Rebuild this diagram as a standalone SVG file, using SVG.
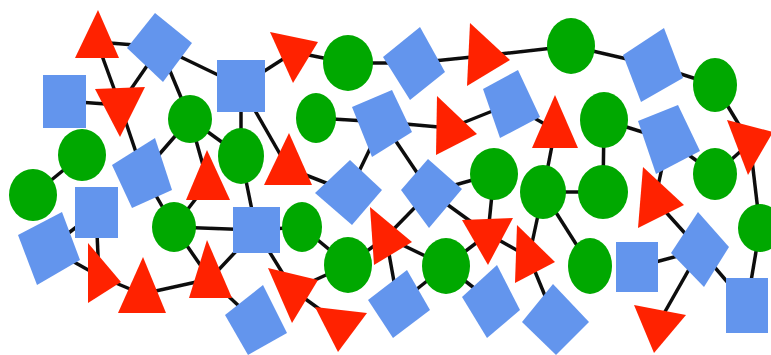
<svg xmlns="http://www.w3.org/2000/svg" width="771" height="355" viewBox="0 0 771 355">
<style>
.g{fill:#00a800}
.b{fill:#6495ed}
.r{fill:#ff2200}
#edges line{stroke:#111;stroke-width:3.5;stroke-linecap:round}
</style>
<defs>
<filter id="soft" x="-5%" y="-5%" width="110%" height="110%"><feGaussianBlur stdDeviation="0.7"/></filter>
</defs>
<rect width="771" height="355" fill="#fff"/>
<g filter="url(#soft)">
<g id="edges">
<line x1="97" y1="42" x2="160" y2="47"/>
<line x1="97" y1="42" x2="120" y2="105"/>
<line x1="160" y1="47" x2="120" y2="105"/>
<line x1="64" y1="101" x2="120" y2="105"/>
<line x1="120" y1="105" x2="143" y2="173"/>
<line x1="160" y1="47" x2="190" y2="119"/>
<line x1="143" y1="173" x2="190" y2="119"/>
<line x1="190" y1="119" x2="208" y2="183"/>
<line x1="160" y1="47" x2="241" y2="86"/>
<line x1="241" y1="86" x2="294" y2="52"/>
<line x1="294" y1="52" x2="348" y2="63"/>
<line x1="348" y1="63" x2="414" y2="63"/>
<line x1="414" y1="63" x2="482" y2="56"/>
<line x1="482" y1="56" x2="571" y2="46"/>
<line x1="571" y1="46" x2="653" y2="65"/>
<line x1="653" y1="65" x2="715" y2="85"/>
<line x1="715" y1="85" x2="750" y2="143"/>
<line x1="750" y1="143" x2="760" y2="228"/>
<line x1="190" y1="119" x2="241" y2="156"/>
<line x1="241" y1="86" x2="241" y2="156"/>
<line x1="241" y1="86" x2="288" y2="168"/>
<line x1="316" y1="118" x2="383" y2="122"/>
<line x1="383" y1="122" x2="450" y2="128"/>
<line x1="383" y1="122" x2="349" y2="192"/>
<line x1="383" y1="122" x2="430" y2="192"/>
<line x1="288" y1="168" x2="349" y2="192"/>
<line x1="450" y1="128" x2="510" y2="104"/>
<line x1="510" y1="104" x2="555" y2="130"/>
<line x1="555" y1="130" x2="543" y2="192"/>
<line x1="604" y1="120" x2="603" y2="192"/>
<line x1="604" y1="120" x2="668" y2="140"/>
<line x1="668" y1="140" x2="715" y2="174"/>
<line x1="715" y1="174" x2="750" y2="143"/>
<line x1="668" y1="140" x2="655" y2="200"/>
<line x1="655" y1="200" x2="700" y2="250"/>
<line x1="637" y1="267" x2="700" y2="250"/>
<line x1="700" y1="250" x2="658" y2="324"/>
<line x1="700" y1="250" x2="747" y2="305"/>
<line x1="760" y1="228" x2="747" y2="305"/>
<line x1="543" y1="192" x2="603" y2="192"/>
<line x1="494" y1="174" x2="488" y2="234"/>
<line x1="543" y1="192" x2="529" y2="257"/>
<line x1="543" y1="192" x2="590" y2="266"/>
<line x1="33" y1="195" x2="82" y2="155"/>
<line x1="49" y1="248" x2="96" y2="212"/>
<line x1="49" y1="248" x2="99" y2="276"/>
<line x1="96" y1="212" x2="99" y2="276"/>
<line x1="99" y1="276" x2="142" y2="294"/>
<line x1="142" y1="294" x2="210" y2="279"/>
<line x1="143" y1="173" x2="174" y2="227"/>
<line x1="174" y1="227" x2="210" y2="279"/>
<line x1="174" y1="227" x2="256" y2="230"/>
<line x1="241" y1="156" x2="256" y2="230"/>
<line x1="208" y1="183" x2="174" y2="227"/>
<line x1="210" y1="279" x2="256" y2="230"/>
<line x1="256" y1="230" x2="302" y2="227"/>
<line x1="256" y1="230" x2="293" y2="290"/>
<line x1="302" y1="227" x2="348" y2="265"/>
<line x1="210" y1="279" x2="256" y2="322"/>
<line x1="293" y1="290" x2="340" y2="324"/>
<line x1="348" y1="265" x2="293" y2="290"/>
<line x1="348" y1="265" x2="386" y2="237"/>
<line x1="430" y1="192" x2="494" y2="174"/>
<line x1="430" y1="192" x2="386" y2="237"/>
<line x1="430" y1="192" x2="488" y2="234"/>
<line x1="386" y1="237" x2="446" y2="266"/>
<line x1="446" y1="266" x2="398" y2="304"/>
<line x1="386" y1="237" x2="398" y2="304"/>
<line x1="446" y1="266" x2="488" y2="234"/>
<line x1="488" y1="234" x2="529" y2="257"/>
<line x1="529" y1="257" x2="555" y2="320"/>
<line x1="446" y1="266" x2="492" y2="302"/>
</g>
<g id="G1"><ellipse class="g" cx="348" cy="63" rx="25" ry="28"/></g>
<g id="G2"><ellipse class="g" cx="571" cy="46" rx="24" ry="28"/></g>
<g id="G3"><ellipse class="g" cx="715" cy="85" rx="22" ry="27"/></g>
<g id="G4"><ellipse class="g" cx="190" cy="119" rx="22" ry="24"/></g>
<g id="G5"><ellipse class="g" cx="316" cy="118" rx="20" ry="25"/></g>
<g id="G6"><ellipse class="g" cx="82" cy="155" rx="24" ry="26"/></g>
<g id="G7"><ellipse class="g" cx="241" cy="156" rx="23" ry="28"/></g>
<g id="G8"><ellipse class="g" cx="604" cy="120" rx="24" ry="28"/></g>
<g id="G9"><ellipse class="g" cx="33" cy="195" rx="24" ry="26"/></g>
<g id="G10"><ellipse class="g" cx="494" cy="174" rx="24" ry="26"/></g>
<g id="G11"><ellipse class="g" cx="543" cy="192" rx="23" ry="27"/></g>
<g id="G12"><ellipse class="g" cx="603" cy="192" rx="25" ry="27"/></g>
<g id="G13"><ellipse class="g" cx="715" cy="174" rx="22" ry="26"/></g>
<g id="G14"><ellipse class="g" cx="174" cy="227" rx="22" ry="25"/></g>
<g id="G15"><ellipse class="g" cx="302" cy="227" rx="20" ry="25"/></g>
<g id="G16"><ellipse class="g" cx="760" cy="228" rx="22" ry="24"/></g>
<g id="G17"><ellipse class="g" cx="348" cy="265" rx="24" ry="28"/></g>
<g id="G18"><ellipse class="g" cx="446" cy="266" rx="24" ry="28"/></g>
<g id="G19"><ellipse class="g" cx="590" cy="266" rx="22" ry="28"/></g>
<g id="S1"><rect class="b" x="43" y="75" width="43" height="53"/></g>
<g id="S2"><rect class="b" x="217" y="60" width="48" height="52"/></g>
<g id="S3"><rect class="b" x="75" y="187" width="43" height="51"/></g>
<g id="S4"><rect class="b" x="233" y="207" width="47" height="46"/></g>
<g id="S5"><rect class="b" x="616" y="242" width="42" height="50"/></g>
<g id="S6"><rect class="b" x="726" y="278" width="42" height="55"/></g>
<g id="D1"><polygon class="b" points="155,13 192,43 163,82 127,48"/></g>
<g id="D2"><polygon class="b" points="420,27 445,72 410,100 383,57"/></g>
<g id="D3"><polygon class="b" points="518,70 540,117 500,138 483,89"/></g>
<g id="D4"><polygon class="b" points="664,28 683,78 641,102 623,55"/></g>
<g id="D5"><polygon class="b" points="678,105 700,151 656,174 638,121"/></g>
<g id="D6"><polygon class="b" points="392,90 412,132 372,157 352,107"/></g>
<g id="D7"><polygon class="b" points="155,138 172,190 132,208 112,165"/></g>
<g id="D8"><polygon class="b" points="350,160 382,190 352,225 315,193"/></g>
<g id="D9"><polygon class="b" points="428,159 462,189 429,228 401,190"/></g>
<g id="D10"><polygon class="b" points="62,212 80,260 37,285 18,235"/></g>
<g id="D11"><polygon class="b" points="263,285 287,333 248,355 225,315"/></g>
<g id="D12"><polygon class="b" points="407,270 430,310 393,338 368,300"/></g>
<g id="D13"><polygon class="b" points="497,265 520,310 487,338 462,297"/></g>
<g id="D14"><polygon class="b" points="553,284 589,322 556,355 522,322"/></g>
<g id="D15"><polygon class="b" points="698,212 729,247 704,287 671,253"/></g>
<g id="T1"><polygon class="r" points="98,10 119,58 75,58"/></g>
<g id="T2"><polygon class="r" points="95,89 145,87 120,137"/></g>
<g id="T3"><polygon class="r" points="270,32 318,42 293,83"/></g>
<g id="T4"><polygon class="r" points="470,23 510,60 467,86"/></g>
<g id="T5"><polygon class="r" points="437,96 477,134 436,155"/></g>
<g id="T6"><polygon class="r" points="555,95 578,148 532,148"/></g>
<g id="T7"><polygon class="r" points="207,150 230,200 186,200"/></g>
<g id="T8"><polygon class="r" points="289,133 312,185 264,185"/></g>
<g id="T9"><polygon class="r" points="727,120 773,132 748,175"/></g>
<g id="T10"><polygon class="r" points="643,167 684,205 638,228"/></g>
<g id="T11"><polygon class="r" points="88,243 121,282 88,303"/></g>
<g id="T12"><polygon class="r" points="143,257 166,313 118,313"/></g>
<g id="T13"><polygon class="r" points="207,240 232,298 189,298"/></g>
<g id="T14"><polygon class="r" points="268,268 318,280 292,323"/></g>
<g id="T15"><polygon class="r" points="315,307 367,313 338,352"/></g>
<g id="T16"><polygon class="r" points="370,207 412,242 374,265"/></g>
<g id="T17"><polygon class="r" points="462,220 513,218 488,265"/></g>
<g id="T18"><polygon class="r" points="517,225 555,262 515,283"/></g>
<g id="T19"><polygon class="r" points="634,305 686,315 654,353"/></g>
</g>
</svg>
